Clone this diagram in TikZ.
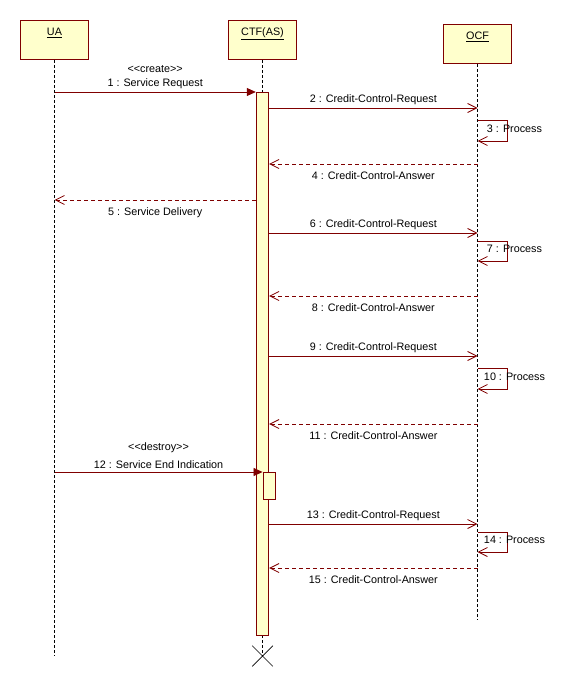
\documentclass[tikz,border=0pt]{standalone}
\usepackage{fontspec}
\setmainfont{Liberation Sans}
\usetikzlibrary{arrows.meta,shapes.misc}
\definecolor{umlred}{RGB}{128,0,0}
\definecolor{umlyellow}{RGB}{255,255,204}

\begin{document}
\begin{tikzpicture}[x=1pt,y=-1pt]
    \tikzstyle{every node}=[font=\fontsize{10.8}{12}\selectfont, text=black]
    \tikzstyle{head}=[draw=umlred, fill=umlyellow, line width=1pt, minimum width=68pt, inner sep=0pt, text height=15pt, text depth=24pt, anchor=north]
    \tikzstyle{actbar}=[draw=umlred, fill=umlyellow, line width=.9pt, minimum width=12.5pt, inner sep=0pt, anchor=north]
    \tikzstyle{lifeline}=[dash pattern=on 3pt off 2pt, line width=.8pt]
    \tikzstyle{create}=[umlred, line width=.8pt, -{Triangle[length=9pt,width=8pt]}]
    \tikzstyle{call}=[umlred, line width=.8pt, -{Straight Barb[length=9pt,width=9pt]}]
    \tikzstyle{reply}=[call, dash pattern=on 4pt off 3pt]

    \useasboundingbox (0,0) rectangle (565,676);

    % objects
    \node[head] (ua) at (54.5,20) {\underline{UA}};
    \node[head] (ctf) at (262.5,20) {\underline{CTF(AS)}};
    \node[head] (ocf) at (477.5,24) {\underline{OCF}};

    % message levels
    \foreach \n/\y in {1/92, 2/108, 3/120, 3b/141, 4/164, 5/200, 6/233, 7/241, 7b/261,
                       8/296, 9/356, 10/368, 10b/389, 11/424, 12/472, 13/524, 14/532,
                       14b/552, 15/568, end/656, ocfend/620}
        \coordinate (y\n) at (0,\y);

    % lifelines
    \node[draw, cross out, minimum size=20pt, line width=.7pt, inner sep=0pt] (kill) at (ctf |- yend) {};
    \draw[lifeline] (ua.south) -- (ua |- yend);
    \draw[lifeline] (ctf.south) -- (kill.center);
    \draw[lifeline] (ocf.south) -- (ocf |- yocfend);

    % activations
    \node[actbar, minimum height=543pt] (ctfbar) at (ctf |- y1) {};
    \node[actbar, minimum width=12pt, minimum height=27pt] (ctfsub) at ([xshift=6.5pt]ctf |- y12) {};

    % first request
    \draw[create] (ua |- y1) -- (ctfbar.west |- y1)
        node[midway,above] {1 : Service Request}
        node[midway,above=16pt] {<{}<create>{}>};
    \draw[call] (ctfbar.east |- y2) -- (ocf |- y2) node[midway,above] {2 : Credit-Control-Request};
    \draw[call] (ocf |- y3) -- ++(30,0) -- ++(0,21) node[midway,xshift=7pt,yshift=2pt] {3 : Process} -- (ocf |- y3b);
    \draw[reply] (ocf |- y4) -- (ctfbar.east |- y4) node[midway,below=4pt] {4 : Credit-Control-Answer};
    \draw[reply] (ctfbar.west |- y5) -- (ua |- y5) node[midway,below=4pt] {5 : Service Delivery};

    % second request
    \draw[call] (ctfbar.east |- y6) -- (ocf |- y6) node[midway,above] {6 : Credit-Control-Request};
    \draw[call] (ocf |- y7) -- ++(30,0) -- ++(0,20) node[midway,xshift=7pt,yshift=2pt] {7 : Process} -- (ocf |- y7b);
    \draw[reply] (ocf |- y8) -- (ctfbar.east |- y8) node[midway,below=4pt] {8 : Credit-Control-Answer};

    % third request
    \draw[call] (ctfbar.east |- y9) -- (ocf |- y9) node[midway,above] {9 : Credit-Control-Request};
    \draw[call] (ocf |- y10) -- ++(30,0) -- ++(0,21) node[midway,xshift=7pt,yshift=2pt] {10 : Process} -- (ocf |- y10b);
    \draw[reply] (ocf |- y11) -- (ctfbar.east |- y11) node[midway,below=4pt] {11 : Credit-Control-Answer};

    % end of service
    \draw[create] (ua |- y12) -- (ctfsub.west |- y12)
        node[midway,above] {12 : Service End Indication}
        node[midway,above=16pt] {<{}<destroy>{}>};
    \draw[call] (ctfbar.east |- y13) -- (ocf |- y13) node[midway,above] {13 : Credit-Control-Request};
    \draw[call] (ocf |- y14) -- ++(30,0) -- ++(0,20) node[midway,xshift=7pt,yshift=2pt] {14 : Process} -- (ocf |- y14b);
    \draw[reply] (ocf |- y15) -- (ctfbar.east |- y15) node[midway,below=4pt] {15 : Credit-Control-Answer};

\end{tikzpicture}
\end{document}
